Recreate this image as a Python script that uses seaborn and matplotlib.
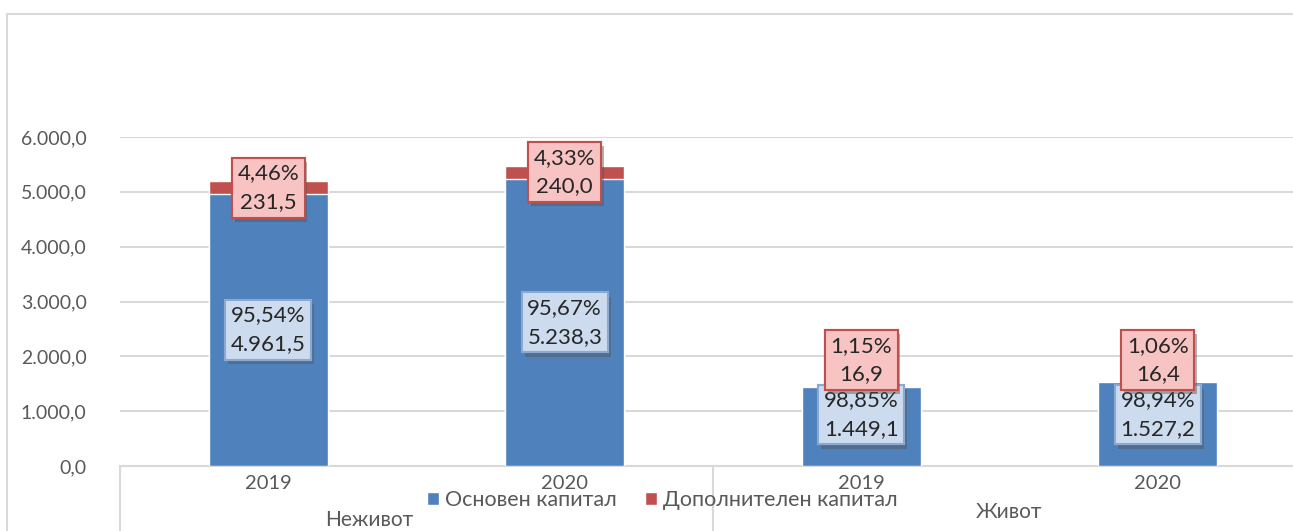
import matplotlib
matplotlib.use("Agg")
import matplotlib.pyplot as plt
import matplotlib.patheffects as pe
from matplotlib.patches import Patch, Rectangle
import matplotlib.transforms as mtransforms
import numpy as np
import pandas as pd
import seaborn as sns

groups = ["Неживот", "Живот"]
years = ["2019", "2020"]
osnoven = [4961.5, 5238.3, 1449.1, 1527.2]
dopolnitelen = [231.5, 240.0, 16.9, 16.4]
pct_osnoven = ["95,54%", "95,67%", "98,85%", "98,94%"]
pct_dopolnitelen = ["4,46%", "4,33%", "1,15%", "1,06%"]
y_ticks = [0, 1000, 2000, 3000, 4000, 5000, 6000]

BLUE = "#4f81bd"
RED = "#c0504d"
GREY = "#595959"
GRID = "#d9d9d9"


def fmt(v, dec=1):
    s = f"{v:,.{dec}f}"
    return s.replace(",", "X").replace(".", ",").replace("X", ".")


sns.set_theme(style="white")
plt.rcParams["font.family"] = ["Lato", "DejaVu Sans"]

bars = [f"{g} {y}" for g in groups for y in years]
df = pd.DataFrame({
    "bar": bars,
    "osnoven": osnoven,
    "total": np.array(osnoven) + np.array(dopolnitelen),
})

fig = plt.figure(figsize=(12.93, 5.31), dpi=100)
ax = fig.add_axes([120 / 1293, 65 / 531, 1186 / 1293, 329 / 531])

sns.barplot(data=df, x="bar", y="total", order=bars, color=RED, saturation=1,
            width=0.4, ax=ax, zorder=2)
sns.barplot(data=df, x="bar", y="osnoven", order=bars, color=BLUE, saturation=1,
            width=0.4, ax=ax, zorder=3)

ax.set_ylim(0, 6000)
ax.set_xlim(-0.5, 3.5)
ax.set_yticks(y_ticks)
ax.set_yticklabels([fmt(v) for v in y_ticks], color=GREY, fontsize=14)
ax.tick_params(axis="y", length=0, pad=24)
ax.set_xticks([])
ax.set_xlabel("")
ax.set_ylabel("")
ax.grid(axis="y", color=GRID, lw=1.5, zorder=0)
ax.set_axisbelow(True)
for s in ["top", "right", "left"]:
    ax.spines[s].set_visible(False)
ax.spines["bottom"].set_color(GRID)
ax.spines["bottom"].set_linewidth(1.5)

# data labels
for i in range(4):
    blue_y = max(osnoven[i] / 2, 940)
    red_y = max(osnoven[i] + dopolnitelen[i] / 2, 1930)
    tb = ax.text(i, blue_y, f"{pct_osnoven[i]}\n{fmt(osnoven[i])}", ha="center",
                 va="center", fontsize=16, color="#262626", linespacing=1.55, zorder=5,
                 bbox=dict(boxstyle="square,pad=0.25", fc="#cddbef", ec="#8aaad4", lw=1.5))
    tr = ax.text(i, red_y, f"{pct_dopolnitelen[i]}\n{fmt(dopolnitelen[i])}", ha="center",
                 va="center", fontsize=16, color="#262626", linespacing=1.55, zorder=6,
                 bbox=dict(boxstyle="square,pad=0.25", fc="#f8c3c3", ec=RED, lw=1.5))
    for t in (tb, tr):
        t.get_bbox_patch().set_path_effects(
            [pe.withSimplePatchShadow(offset=(2, -3), shadow_rgbFace="#555555", alpha=0.45),
             pe.Normal()])

# two-level category axis
trans = mtransforms.blended_transform_factory(ax.transData, ax.transAxes)
for i, y in enumerate(years * 2):
    ax.text(i, -0.052, y, transform=trans, ha="center", va="center",
            fontsize=14.5, color=GREY)
for xv in (-0.5, 1.5):
    ax.plot([xv, xv], [0, -0.25], transform=trans, color=GRID, lw=1.5, clip_on=False)
ax.text(0.34, -0.165, groups[0], transform=trans, ha="center", va="center",
        fontsize=15, color=GREY)
ax.text(2.5, -0.14, groups[1], transform=trans, ha="center", va="center",
        fontsize=15, color=GREY)

handles = [Patch(facecolor=BLUE, label="Основен капитал"),
           Patch(facecolor=RED, label="Дополнителен капитал")]
fig.legend(handles=handles, loc="center", bbox_to_anchor=(662 / 1293, 31 / 531),
           ncol=2, frameon=False, fontsize=15.5, handlelength=0.6, handleheight=0.6,
           handletextpad=0.25, columnspacing=1.3, labelcolor=GREY)

# chart border
fig.patches.append(Rectangle((7 / 1293, -0.1), 1.1, (531 - 14) / 531 + 0.1,
                             transform=fig.transFigure, fill=False, ec=GRID, lw=1.5))

fig.savefig("out.png", dpi=100)
